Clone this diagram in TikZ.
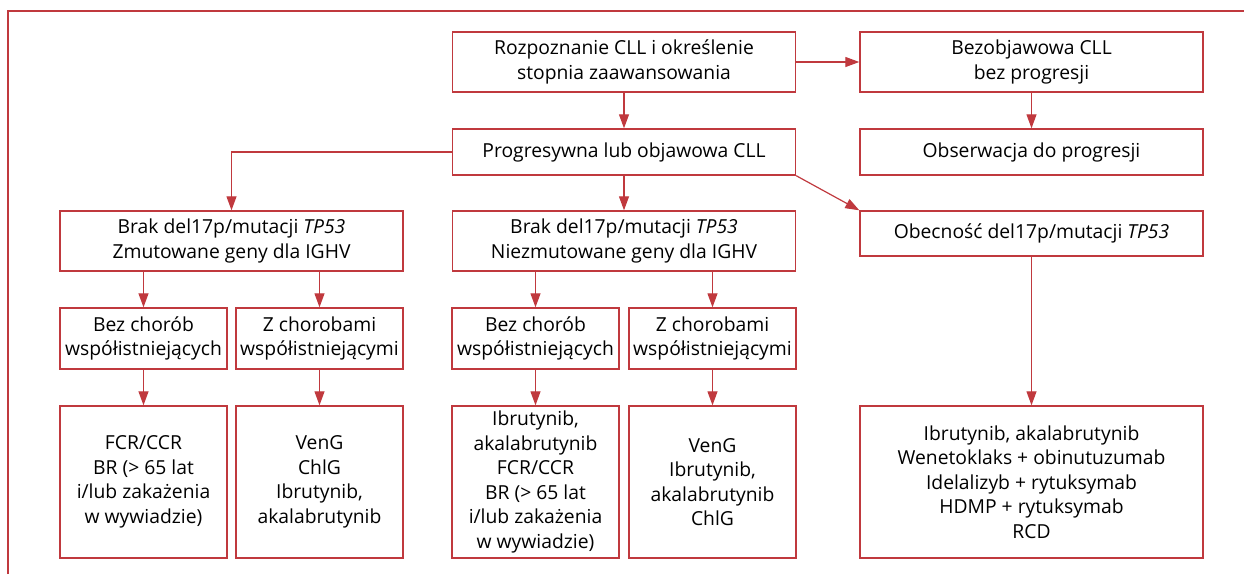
\documentclass[tikz,border=0pt]{standalone}
\usepackage{fontspec}
\setmainfont{Open Sans}
\usetikzlibrary{arrows.meta}
\definecolor{frame}{RGB}{192,57,62}
\begin{document}
\begin{tikzpicture}[x=1pt,y=-1pt,
  box/.style={draw=frame,line width=1.4pt,rectangle,inner sep=0pt,align=center,
    font=\fontsize{19.3}{24.5}\selectfont,text=black},
  wide/.style={box,minimum width=343pt},
  narrow/.style={box,minimum width=167pt},
  arr/.style={draw=frame,line width=1.2pt,-{Triangle[length=14pt,width=10pt]}},
  ln/.style={draw=frame,line width=1.4pt}]
\useasboundingbox (0,0) rectangle (1244,574);
\draw[ln] (8,574) -- (8,11) -- (1244,11);
% row 1
\node[wide,minimum height=60pt] (A) at (624,62) {Rozpoznanie CLL i określenie\\stopnia zaawansowania};
\node[wide,minimum height=60pt] (B) at (1031.5,62) {Bezobjawowa CLL\\bez progresji};
% row 2
\node[wide,minimum height=46pt] (D) at (624,152) {Progresywna lub objawowa CLL};
\node[wide,minimum height=46pt] (C) at (1031.5,152) {Obserwacja do progresji};
% row 3
\node[wide,minimum height=60pt] (E) at (231.5,241) {Brak del17p/mutacji \textit{TP53}\\Zmutowane geny dla IGHV};
\node[wide,minimum height=60pt] (F) at (624,241) {Brak del17p/mutacji \textit{TP53}\\Niezmutowane geny dla IGHV};
\node[wide,minimum height=45pt] (G) at (1031.5,233.5) {Obecność del17p/mutacji \textit{TP53}};
% row 4
\node[narrow,minimum height=61pt] (E1) at (143.5,338.5) {Bez chorób\\współistniejących};
\node[narrow,minimum height=61pt] (E2) at (319.5,338.5) {Z chorobami\\współistniejącymi};
\node[narrow,minimum height=61pt] (F1) at (535.5,338.5) {Bez chorób\\współistniejących};
\node[narrow,minimum height=61pt] (F2) at (712.5,338.5) {Z chorobami\\współistniejącymi};
% row 5
\node[narrow,minimum height=152pt] (E1b) at (143.5,482) {FCR/CCR\\BR (> 65 lat\\i/lub zakażenia\\w wywiadzie)};
\node[narrow,minimum height=152pt] (E2b) at (319.5,482) {VenG\\ChlG\\Ibrutynib,\\akalabrutynib};
\node[narrow,minimum height=152pt] (F1b) at (535.5,482) {Ibrutynib,\\akalabrutynib\\FCR/CCR\\BR (> 65 lat\\i/lub zakażenia\\w wywiadzie)};
\node[narrow,minimum height=152pt] (F2b) at (712.5,482) {VenG\\Ibrutynib,\\akalabrutynib\\ChlG};
\node[wide,minimum height=152pt] (H) at (1031.5,482) {Ibrutynib, akalabrutynib\\Wenetoklaks + obinutuzumab\\Idelalizyb + rytuksymab\\HDMP + rytuksymab\\RCD};
% connectors
\draw[arr] (A.east) -- (B.west);
\draw[arr] (A.south) -- (D.north);
\draw[arr] (B.south) -- (C.north);
\draw[arr] (D.west) -| (E.north);
\draw[arr] (D.south) -- (F.north);
\draw[arr] (D.south east) -- (G.north west);
\draw[arr] (E.south -| E1.north) -- (E1.north);
\draw[arr] (E.south -| E2.north) -- (E2.north);
\draw[arr] (F.south -| F1.north) -- (F1.north);
\draw[arr] (F.south -| F2.north) -- (F2.north);
\draw[arr] (E1) -- (E1b);
\draw[arr] (E2) -- (E2b);
\draw[arr] (F1) -- (F1b);
\draw[arr] (F2) -- (F2b);
\draw[arr] (G) -- (H);
\end{tikzpicture}
\end{document}
